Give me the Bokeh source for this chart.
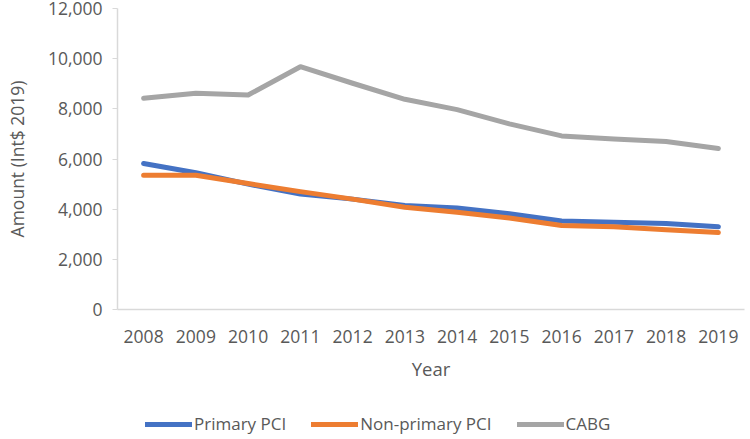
from bokeh.plotting import figure
from bokeh.layouts import column
from bokeh.models import FactorRange, Range1d, FixedTicker, NumeralTickFormatter, Legend, LegendItem
from bokeh.embed import file_html
from bokeh.resources import INLINE

years = ["2008", "2009", "2010", "2011", "2012", "2013", "2014", "2015", "2016", "2017", "2018", "2019"]
primary_pci = [5820, 5450, 5000, 4600, 4400, 4150, 4050, 3820, 3530, 3480, 3430, 3300]
non_primary_pci = [5350, 5350, 5020, 4700, 4400, 4080, 3880, 3650, 3350, 3300, 3180, 3070]
cabg = [8420, 8620, 8550, 9680, 9020, 8380, 7970, 7400, 6920, 6800, 6700, 6420]
y_ticks = [0, 2000, 4000, 6000, 8000, 10000, 12000]
series_names = ["Primary PCI", "Non-primary PCI", "CABG"]
series_colors = ["#4472C4", "#ED7D31", "#A5A5A5"]
series_values = [primary_pci, non_primary_pci, cabg]

FONT = "Open Sans"
TXT = "#595959"

p = figure(width=745, height=405, output_backend="svg", toolbar_location=None,
           x_range=FactorRange(factors=years, range_padding=0),
           y_range=Range1d(0, 12000),
           min_border_left=117, min_border_right=1, min_border_top=8, min_border_bottom=96)
p.outline_line_color = None
p.xgrid.grid_line_color = None
p.ygrid.grid_line_color = None

for vals, col in zip(series_values, series_colors):
    p.line(years, vals, line_color=col, line_width=5, line_cap="round", line_join="round")

for ax in (p.xaxis[0], p.yaxis[0]):
    ax.axis_line_color = "#D9D9D9"
    ax.axis_line_width = 1.5
    ax.major_label_text_font = FONT
    ax.major_label_text_font_size = "17.5px"
    ax.major_label_text_color = TXT
    ax.axis_label_text_font = FONT
    ax.axis_label_text_color = TXT
    ax.axis_label_text_font_style = "normal"
    ax.minor_tick_line_color = None

p.xaxis.axis_label = "Year"
p.xaxis.axis_label_text_font_size = "18.5px"
p.xaxis.major_tick_line_color = None
p.xaxis.major_label_standoff = 14
p.xaxis.axis_label_standoff = 10

p.yaxis.axis_label = "Amount (Int$ 2019)"
p.yaxis.axis_label_text_font_size = "17.5px"
p.yaxis.ticker = FixedTicker(ticks=y_ticks)
p.yaxis.formatter = NumeralTickFormatter(format="0,0")
p.yaxis.major_tick_line_color = "#D9D9D9"
p.yaxis.major_tick_out = 5
p.yaxis.major_tick_in = 0
p.yaxis.major_label_standoff = 10
p.yaxis.axis_label_standoff = 16

# legend strip below the chart (its lines sit outside the strip's visible range)
lg = figure(width=745, height=34, output_backend="svg", toolbar_location=None,
            x_range=FactorRange(factors=years), y_range=Range1d(-3, -2),
            x_axis_location=None, y_axis_location=None,
            min_border_left=0, min_border_right=0, min_border_top=0, min_border_bottom=0)
lg.xgrid.grid_line_color = None
lg.ygrid.grid_line_color = None
lg.outline_line_color = None
items = []
for name, col, vals in zip(series_names, series_colors, series_values):
    r = lg.line(years, vals, line_color=col, line_width=5, line_cap="round")
    items.append(LegendItem(label=name, renderers=[r]))
legend = Legend(items=items, orientation="horizontal", location=(28, 4),
                glyph_width=47, glyph_height=20, label_standoff=2, spacing=25,
                padding=0, margin=0, border_line_color=None, background_fill_alpha=0,
                label_text_font=FONT, label_text_font_size="17px", label_text_color=TXT)
lg.add_layout(legend, "center")

layout = column(p, lg, spacing=0)
open("out.html", "w").write(file_html(layout, INLINE))
